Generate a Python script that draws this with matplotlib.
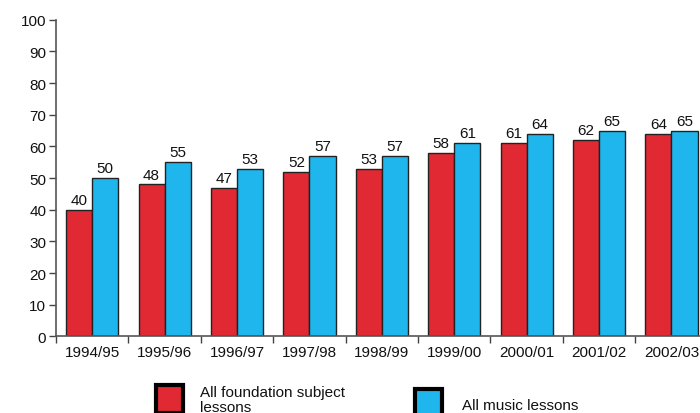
import matplotlib
matplotlib.use("Agg")
import matplotlib.pyplot as plt
import numpy as np
from matplotlib.patches import Rectangle

plt.rcParams['font.family'] = ['Liberation Sans', 'DejaVu Sans']

years = ["1994/95", "1995/96", "1996/97", "1997/98", "1998/99",
         "1999/00", "2000/01", "2001/02", "2002/03"]
foundation = [40, 48, 47, 52, 53, 58, 61, 62, 64]
music = [50, 55, 53, 57, 57, 61, 64, 65, 65]

series_names = ["All foundation subject\nlessons", "All music lessons"]
red = "#E02932"
blue = "#1EB6EC"

W, H = 700, 414
fig = plt.figure(figsize=(W / 100, H / 100), dpi=100)
ax = fig.add_axes([0.08, 0.185, 0.931, 0.765])

x = np.arange(len(years))
w = 0.36
b1 = ax.bar(x - w / 2, foundation, w, color=red, edgecolor="#222222", linewidth=1)
b2 = ax.bar(x + w / 2, music, w, color=blue, edgecolor="#222222", linewidth=1)

for bars, vals in ((b1, foundation), (b2, music)):
    for rect, v in zip(bars, vals):
        ax.annotate(str(v), (rect.get_x() + rect.get_width() / 2, v),
                    xytext=(0, 2), textcoords="offset points",
                    ha="center", va="bottom", fontsize=11, color="#111111")

ax.set_xlim(-0.5, len(years) - 0.5)
ax.set_ylim(0, 100)
ax.set_yticks(np.arange(0, 101, 10))
ax.tick_params(axis="y", length=5, width=1, color="#444444", labelsize=11,
               pad=2, labelcolor="#111111")

# category labels centred under each pair, ticks between the pairs
ax.set_xticks(np.arange(len(years) + 1) - 0.5)
ax.set_xticklabels([])
ax.set_xticks(x, minor=True)
ax.set_xticklabels(years, minor=True, fontsize=11, color="#111111")
ax.tick_params(axis="x", which="major", length=5, width=1, color="#444444")
ax.tick_params(axis="x", which="minor", length=0, pad=6)

for side in ("top", "right"):
    ax.spines[side].set_visible(False)
for side in ("left", "bottom"):
    ax.spines[side].set_color("#555555")
    ax.spines[side].set_linewidth(1.2)


def fig_box(px, py, pw, ph, color):
    """Legend swatch given in pixel units measured from the top-left."""
    fig.patches.append(Rectangle((px / W, 1 - (py + ph) / H), pw / W, ph / H,
                                 transform=fig.transFigure, facecolor=color,
                                 edgecolor="black", linewidth=3))


# legend below the plot
fig_box(156, 386, 27, 28, red)
fig_box(415, 390, 27, 28, blue)
fig.text(200 / W, 1 - 386 / H, series_names[0], ha="left", va="top",
         fontsize=11, color="#111111", linespacing=1.05)
fig.text(462 / W, 1 - 406 / H, series_names[1], ha="left", va="center",
         fontsize=11, color="#111111")

fig.savefig("out.png", dpi=100)
